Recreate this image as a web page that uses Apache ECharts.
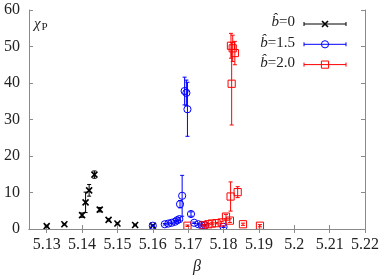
<!DOCTYPE html>
<html><head><meta charset="utf-8">
<script src="https://cdn.jsdelivr.net/npm/echarts@6/dist/echarts.min.js"></script>
<style>html,body{margin:0;padding:0;background:#fff}#c{width:382px;height:278px}</style>
</head><body><div id="c"></div>
<script>
// ---- data ----
const xTicks = [5.13,5.14,5.15,5.16,5.17,5.18,5.19,5.20,5.21,5.22];
const yTicks = [0,10,20,30,40,50,60];

const b0Beta = [5.13,5.135,5.14,5.141,5.142,5.1435,5.145,5.1475,5.15,5.155,5.16];
const b0Val  = [0.8,1.3,3.8,7.3,10.6,14.9,5.3,2.5,1.5,1.1,0.9];
const b0Err  = [0.2,0.2,0.6,2.8,1.6,1.0,0.6,0.3,0.2,0.2,0.2];

const b15Beta = [5.16,5.1634,5.1644,5.1653,5.1663,5.1669,5.1675,5.1677,5.1683,5.169,5.1695,5.1698,5.1708,5.1717,5.1729,5.1738,5.1748,5.18];
const b15Val  = [0.9,1.3,1.5,1.7,2.0,2.4,2.7,6.8,9.1,37.8,37.3,32.8,4.1,1.7,1.3,1.1,1.0,0.6];
const b15Err  = [0.2,0.2,0.2,0.2,0.3,0.3,0.4,1.0,5.6,3.8,3.5,7.4,0.6,0.2,0.2,0.2,0.2,0.2];

const b20Beta = [5.1698,5.1743,5.1757,5.1767,5.178,5.1795,5.1807,5.1818,5.182,5.1821,5.1823,5.1826,5.1832,5.184,5.1855,5.1903];
const b20Val  = [0.9,1.0,1.3,1.5,1.6,1.8,3.4,2.3,8.9,50.2,39.8,49.5,48.2,10.1,1.3,0.9];
const b20Err  = [0.2,0.2,0.2,0.2,0.2,0.3,0.6,0.5,4.0,3.4,11.3,3.6,3.2,1.5,0.3,0.3];

const seriesNames = ['b̂=0','b̂=1.5','b̂=2.0'];
const colors = ['#000000','#0000ff','#ff0000'];
const kinds = ['cross','circle','square'];

function rows(b,v,e){ return b.map((x,i)=>[x,v[i],e[i]]); }

function markerShapes(kind, cx, cy, color, lw){
  const s = {stroke: color, fill: 'none', lineWidth: lw};
  if (kind==='circle') return [{type:'circle', shape:{cx:cx,cy:cy,r:3.6}, style:s}];
  if (kind==='square') return [{type:'rect', shape:{x:cx-3.6,y:cy-3.6,width:7.2,height:7.2}, style:s}];
  const d=3;
  return [{type:'line', shape:{x1:cx-d,y1:cy-d,x2:cx+d,y2:cy+d}, style:{stroke:color,lineWidth:1.6}},
          {type:'line', shape:{x1:cx-d,y1:cy+d,x2:cx+d,y2:cy-d}, style:{stroke:color,lineWidth:1.6}}];
}

function makeRender(kind, color){
  return function(params, api){
    const x = api.value(0), y = api.value(1), e = api.value(2);
    const p = api.coord([x,y]), t = api.coord([x,y+e]), b = api.coord([x,y-e]);
    const cw = 2;
    const st = {stroke: color, lineWidth: 1};
    const ch = [
      {type:'line', shape:{x1:p[0],y1:t[1],x2:p[0],y2:b[1]}, style:st},
      {type:'line', shape:{x1:p[0]-cw,y1:t[1],x2:p[0]+cw,y2:t[1]}, style:st},
      {type:'line', shape:{x1:p[0]-cw,y1:b[1],x2:p[0]+cw,y2:b[1]}, style:st}
    ].concat(markerShapes(kind, p[0], p[1], color, 1));
    return {type:'group', children: ch};
  };
}

const datasets = [rows(b0Beta,b0Val,b0Err), rows(b15Beta,b15Val,b15Err), rows(b20Beta,b20Val,b20Err)];

const axisColor = '#8a8a8a';
const labelFont = {fontFamily:'Liberation Serif', fontSize:16, color:'#222'};

// legend drawn as graphics
const legendGraphics = [];
seriesNames.forEach((n,i)=>{
  const y = 24 + i*20.3;
  legendGraphics.push({type:'text', right: 382-295, top: y-9, style:{
    text: '{i|b̂}{n|' + n.slice(2) + '}',
    rich:{i:{fontFamily:'Liberation Serif', fontStyle:'italic', fontSize:15, fill:'#222'},
          n:{fontFamily:'Liberation Serif', fontSize:15, fill:'#222'}}
  }});
  const c = colors[i];
  const st = {stroke:c, lineWidth:1};
  legendGraphics.push({type:'line', shape:{x1:304,y1:y,x2:346,y2:y}, style:st});
  legendGraphics.push({type:'line', shape:{x1:304,y1:y-2,x2:304,y2:y+2}, style:st});
  legendGraphics.push({type:'line', shape:{x1:346,y1:y-2,x2:346,y2:y+2}, style:st});
  markerShapes(kinds[i], 325, y, c, 1).forEach(g=>legendGraphics.push(g));
});
legendGraphics.push({type:'text', left:34, top:17, style:{
  text:'{a|χ}{b|P}',
  rich:{a:{fontFamily:'Liberation Serif', fontStyle:'italic', fontSize:15, fill:'#222'},
        b:{fontFamily:'Liberation Serif', fontSize:11, fill:'#222', padding:[5,0,0,1]}}
}});

const chart = echarts.init(document.getElementById('c'), null, {renderer:'canvas'});
chart.setOption({
  animation:false,
  backgroundColor:'#fff',
  grid:{left:29, right:17, top:10, bottom:49, containLabel:false, outerBoundsMode:'none'},
  xAxis:[{
    type:'value', min:5.125, max:5.22, position:'bottom',
    name:'β', nameLocation:'middle', nameGap:30,
    nameTextStyle:{fontFamily:'Liberation Serif', fontStyle:'italic', fontSize:16, color:'#222'},
    axisLine:{lineStyle:{color:axisColor, width:1}},
    axisTick:{inside:true, length:4, lineStyle:{color:axisColor}, customValues:xTicks},
    axisLabel:Object.assign({margin:8, customValues:xTicks, formatter:v=>String(+v.toFixed(2))}, labelFont),
    splitLine:{show:false}
  },{
    type:'value', min:5.125, max:5.22, position:'top',
    axisLine:{lineStyle:{color:axisColor, width:1}},
    axisTick:{inside:true, length:4, lineStyle:{color:axisColor}, customValues:xTicks},
    axisLabel:{show:false}, splitLine:{show:false}
  }],
  yAxis:[{
    type:'value', min:0, max:60, interval:10, position:'left',
    axisLine:{show:true, lineStyle:{color:axisColor, width:1}},
    axisTick:{show:true, inside:true, length:4, lineStyle:{color:axisColor}},
    axisLabel:Object.assign({margin:9, formatter:v=>yTicks.indexOf(v)>=0?String(v):''}, labelFont),
    splitLine:{show:false}
  },{
    type:'value', min:0, max:60, interval:10, position:'right',
    axisLine:{show:true, lineStyle:{color:axisColor, width:1}},
    axisTick:{show:true, inside:true, length:4, lineStyle:{color:axisColor}},
    axisLabel:{show:false}, splitLine:{show:false}
  }],
  series: datasets.map((d,i)=>({
    type:'custom', name:seriesNames[i], xAxisIndex:0, yAxisIndex:0,
    renderItem: makeRender(kinds[i], colors[i]),
    encode:{x:0, y:1}, data:d, clip:true
  })),
  graphic: legendGraphics
});
</script></body></html>
